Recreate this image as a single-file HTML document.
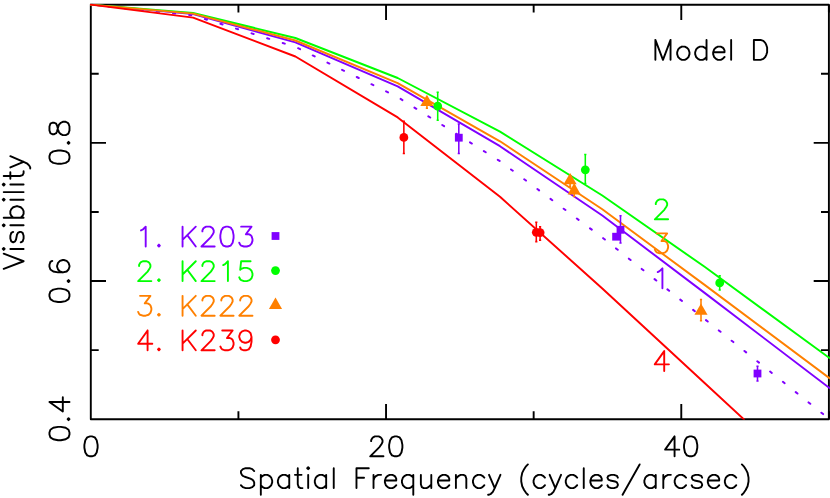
<!DOCTYPE html>
<html><head><meta charset="utf-8"><title>Model D visibility</title>
<style>html,body{margin:0;padding:0;background:#fff;font-family:"Liberation Sans",sans-serif}svg{display:block}</style>
</head><body>
<svg width="830" height="498" viewBox="0 0 830 498">
<rect width="830" height="498" fill="#fff"/>
<rect x="271.6" y="232.1" width="7.8" height="7.8" fill="#8000ff"/>
<circle cx="275.5" cy="270.6" r="4.4" fill="#00ff00"/>
<path d="M275.5 297.6 L282.05 309 L268.95 309 Z" fill="#ff8000"/>
<circle cx="275.5" cy="339.8" r="4.4" fill="#ff0000"/>
<g stroke="#000" stroke-width="1.9" fill="none" stroke-linecap="butt">
<rect x="90.8" y="4.7" width="738.1" height="414.5" stroke-linejoin="round"/>
<path d="M238.42 419.2 V411.3 M238.42 4.7 V12.6 M386.04 419.2 V404 M386.04 4.7 V19.9 M533.66 419.2 V411.3 M533.66 4.7 V12.6 M681.28 419.2 V404 M681.28 4.7 V19.9 M828.9 419.2 V411.3 M828.9 4.7 V12.6 M90.8 350.12 H98.7 M828.9 350.12 H821 M90.8 281.03 H106 M828.9 281.03 H813.7 M90.8 211.95 H98.7 M828.9 211.95 H821 M90.8 142.87 H106 M828.9 142.87 H813.7 M90.8 73.78 H98.7 M828.9 73.78 H821"/>
</g>
<g fill="none" stroke-linecap="round" stroke-linejoin="round" clip-path="url(#clip)">
<clipPath id="clip"><rect x="89.9" y="3.8" width="741.1" height="415.7"/></clipPath>
<path d="M90.8 4.6 L193.1 14.1 L295.4 42.4 L397.7 86.4 L500 146.2 L602.3 215.5 L704.6 292.9 L829.5 388" stroke="#8000ff" stroke-width="1.95"/>
<path d="M92.23 4.75l2.19 0.23M108.39 6.46l2.19 0.23M124.54 8.16l2.19 0.23M140.7 9.87l2.19 0.23M156.85 11.57l2.19 0.23M173.01 13.28l2.19 0.23M189.17 14.98l2.19 0.23M204.87 19.03l2.1 0.65M220.44 23.82l2.1 0.65M236 28.61l2.1 0.65M251.56 33.4l2.1 0.65M267.12 38.19l2.1 0.65M282.68 42.98l2.1 0.65M298.09 48.22l1.98 0.97M312.75 55.42l1.98 0.97M327.42 62.61l1.98 0.97M342.09 69.81l1.98 0.97M356.75 77.01l1.98 0.97M371.42 84.2l1.98 0.97M386.08 91.4l1.98 0.97M400.59 98.91l1.86 1.17M414.47 107.61l1.86 1.17M428.35 116.31l1.86 1.17M442.24 125.01l1.86 1.17M456.12 133.7l1.86 1.17M470 142.4l1.86 1.17M483.88 151.1l1.86 1.17M497.76 159.8l1.86 1.17M511.04 169.44l1.76 1.32M524.2 179.25l1.76 1.32M537.37 189.07l1.76 1.32M550.53 198.89l1.76 1.32M563.69 208.7l1.76 1.32M576.85 218.52l1.76 1.32M590.02 228.34l1.76 1.32M603.16 238.18l1.72 1.37M616.01 248.43l1.72 1.37M628.87 258.67l1.72 1.37M641.72 268.91l1.72 1.37M654.58 279.15l1.72 1.37M667.43 289.39l1.72 1.37M680.29 299.63l1.72 1.37M693.14 309.87l1.72 1.37M706 320.12l1.72 1.38M718.82 330.41l1.72 1.38M731.64 340.69l1.72 1.38M744.46 350.98l1.72 1.38M757.28 361.26l1.72 1.38M770.1 371.55l1.72 1.38M782.93 381.84l1.72 1.38M795.75 392.12l1.72 1.38M808.57 402.41l1.72 1.38M821.39 412.69l1.72 1.38" stroke="#8000ff" stroke-width="2.0"/>
<path d="M90.8 4.6 L193.1 13 L295.4 38 L397.7 78 L500 131.7 L602.3 195.5 L704.6 266.8 L829.5 358" stroke="#00ff00" stroke-width="1.95"/>
<path d="M90.8 4.6 L193.1 13.6 L295.4 40.5 L397.7 83.1 L500 141.3 L602.3 209.3 L704.6 284.9 L829.5 378.1" stroke="#ff8000" stroke-width="1.95"/>
<path d="M90.8 4.6 L193.1 17.6 L295.4 56.5 L397.7 117.4 L500 196.8 L602.3 288.5 L704.6 383 L744 419.4" stroke="#ff0000" stroke-width="1.95"/>
</g>
<path d="M458.8 123.4V154M457.7 123.9h2.2M457.7 153.5h2.2" stroke="#8000ff" stroke-width="1.55" fill="none"/>
<rect x="454.9" y="133.8" width="7.8" height="7.8" fill="#8000ff"/>
<path d="M620.5 215.2V243.5M619.4 215.7h2.2M619.4 243h2.2" stroke="#8000ff" stroke-width="1.55" fill="none"/>
<rect x="616.6" y="225.9" width="7.8" height="7.8" fill="#8000ff"/>
<path d="M616.1 234V239.5M615 234.5h2.2M615 239h2.2" stroke="#8000ff" stroke-width="1.55" fill="none"/>
<rect x="612.2" y="232.8" width="7.8" height="7.8" fill="#8000ff"/>
<path d="M757.5 365.7V381.5M756.4 366.2h2.2M756.4 381h2.2" stroke="#8000ff" stroke-width="1.55" fill="none"/>
<rect x="753.6" y="369.6" width="7.8" height="7.8" fill="#8000ff"/>
<path d="M437.7 91.8V120.7M436.6 92.3h2.2M436.6 120.2h2.2" stroke="#00ff00" stroke-width="1.55" fill="none"/>
<circle cx="437.7" cy="106.1" r="4.4" fill="#00ff00"/>
<path d="M585.3 153.9V184M584.2 154.4h2.2M584.2 183.5h2.2" stroke="#00ff00" stroke-width="1.55" fill="none"/>
<circle cx="585.3" cy="169.8" r="4.4" fill="#00ff00"/>
<path d="M719.7 275.3V290.4M718.6 275.8h2.2M718.6 289.9h2.2" stroke="#00ff00" stroke-width="1.55" fill="none"/>
<circle cx="719.7" cy="282.9" r="4.4" fill="#00ff00"/>
<path d="M426.9 97V108.8M425.8 97.5h2.2M425.8 108.3h2.2" stroke="#ff8000" stroke-width="1.55" fill="none"/>
<path d="M426.9 94.7 L433.45 106.1 L420.35 106.1 Z" fill="#ff8000"/>
<path d="M570.1 175V187M569 175.5h2.2M569 186.5h2.2" stroke="#ff8000" stroke-width="1.55" fill="none"/>
<path d="M570.1 172.9 L576.65 184.3 L563.55 184.3 Z" fill="#ff8000"/>
<path d="M574.2 185V197M573.1 185.5h2.2M573.1 196.5h2.2" stroke="#ff8000" stroke-width="1.55" fill="none"/>
<path d="M574.2 183 L580.75 194.4 L567.65 194.4 Z" fill="#ff8000"/>
<path d="M701 299V321.3M699.9 299.5h2.2M699.9 320.8h2.2" stroke="#ff8000" stroke-width="1.55" fill="none"/>
<path d="M701 303.4 L707.55 314.8 L694.45 314.8 Z" fill="#ff8000"/>
<path d="M403.85 120.8V154M402.75 121.3h2.2M402.75 153.5h2.2" stroke="#ff0000" stroke-width="1.55" fill="none"/>
<circle cx="403.85" cy="137.4" r="4.4" fill="#ff0000"/>
<path d="M536.3 221.8V242.1M535.2 222.3h2.2M535.2 241.6h2.2" stroke="#ff0000" stroke-width="1.55" fill="none"/>
<circle cx="536.3" cy="232.3" r="4.4" fill="#ff0000"/>
<path d="M540.1 226.3V240.7M539 226.8h2.2M539 240.2h2.2" stroke="#ff0000" stroke-width="1.55" fill="none"/>
<circle cx="540.1" cy="232.7" r="4.4" fill="#ff0000"/>
<g fill="none" stroke-linecap="round" stroke-linejoin="round">
<path transform="translate(651.6 59.85) scale(0.947 -0.947)" d="M4 21 L4 0 M4 21 L12 0 M20 21 L12 0 M20 21 L20 0 M32 14 L30 13 L28 11 L27 8 L27 6 L28 3 L30 1 L32 0 L35 0 L37 1 L39 3 L40 6 L40 8 L39 11 L37 13 L35 14 L32 14 M58 21 L58 0 M58 11 L56 13 L54 14 L51 14 L49 13 L47 11 L46 8 L46 6 L47 3 L49 1 L51 0 L54 0 L56 1 L58 3 M65 8 L77 8 L77 10 L76 12 L75 13 L73 14 L70 14 L68 13 L66 11 L65 8 L65 6 L66 3 L68 1 L70 0 L73 0 L75 1 L77 3 M84 21 L84 0 M108 21 L108 0 M108 21 L115 21 L118 20 L120 18 L121 16 L122 13 L122 8 L121 5 L120 3 L118 1 L115 0 L108 0" stroke="#000" stroke-width="1.9" vector-effect="non-scaling-stroke"/>
<path transform="translate(135.3 246.5) scale(0.945 -0.945)" d="M6 17 L8 18 L11 21 L11 0 M25 2 L24 1 L25 0 L26 1 L25 2 M50 21 L50 0 M64 21 L50 7 M55 12 L64 0 M71 16 L71 17 L72 19 L73 20 L75 21 L79 21 L81 20 L82 19 L83 17 L83 15 L82 13 L80 10 L70 0 L84 0 M96 21 L93 20 L91 17 L90 12 L90 9 L91 4 L93 1 L96 0 L98 0 L101 1 L103 4 L104 9 L104 12 L103 17 L101 20 L98 21 L96 21 M112 21 L123 21 L117 13 L120 13 L122 12 L123 11 L124 8 L124 6 L123 3 L121 1 L118 0 L115 0 L112 1 L111 2 L110 4" stroke="#8000ff" stroke-width="1.9" vector-effect="non-scaling-stroke"/>
<path transform="translate(135.3 281.1) scale(0.945 -0.945)" d="M4 16 L4 17 L5 19 L6 20 L8 21 L12 21 L14 20 L15 19 L16 17 L16 15 L15 13 L13 10 L3 0 L17 0 M25 2 L24 1 L25 0 L26 1 L25 2 M50 21 L50 0 M64 21 L50 7 M55 12 L64 0 M71 16 L71 17 L72 19 L73 20 L75 21 L79 21 L81 20 L82 19 L83 17 L83 15 L82 13 L80 10 L70 0 L84 0 M93 17 L95 18 L98 21 L98 0 M122 21 L112 21 L111 12 L112 13 L115 14 L118 14 L121 13 L123 11 L124 8 L124 6 L123 3 L121 1 L118 0 L115 0 L112 1 L111 2 L110 4" stroke="#00ff00" stroke-width="1.9" vector-effect="non-scaling-stroke"/>
<path transform="translate(135.3 315.7) scale(0.945 -0.945)" d="M5 21 L16 21 L10 13 L13 13 L15 12 L16 11 L17 8 L17 6 L16 3 L14 1 L11 0 L8 0 L5 1 L4 2 L3 4 M25 2 L24 1 L25 0 L26 1 L25 2 M50 21 L50 0 M64 21 L50 7 M55 12 L64 0 M71 16 L71 17 L72 19 L73 20 L75 21 L79 21 L81 20 L82 19 L83 17 L83 15 L82 13 L80 10 L70 0 L84 0 M91 16 L91 17 L92 19 L93 20 L95 21 L99 21 L101 20 L102 19 L103 17 L103 15 L102 13 L100 10 L90 0 L104 0 M111 16 L111 17 L112 19 L113 20 L115 21 L119 21 L121 20 L122 19 L123 17 L123 15 L122 13 L120 10 L110 0 L124 0" stroke="#ff8000" stroke-width="1.9" vector-effect="non-scaling-stroke"/>
<path transform="translate(135.3 350.3) scale(0.945 -0.945)" d="M13 21 L3 7 L18 7 M13 21 L13 0 M25 2 L24 1 L25 0 L26 1 L25 2 M50 21 L50 0 M64 21 L50 7 M55 12 L64 0 M71 16 L71 17 L72 19 L73 20 L75 21 L79 21 L81 20 L82 19 L83 17 L83 15 L82 13 L80 10 L70 0 L84 0 M92 21 L103 21 L97 13 L100 13 L102 12 L103 11 L104 8 L104 6 L103 3 L101 1 L98 0 L95 0 L92 1 L91 2 L90 4 M123 14 L122 11 L120 9 L117 8 L116 8 L113 9 L111 11 L110 14 L110 15 L111 18 L113 20 L116 21 L117 21 L120 20 L122 18 L123 14 L123 9 L122 4 L120 1 L117 0 L115 0 L112 1 L111 3" stroke="#ff0000" stroke-width="1.9" vector-effect="non-scaling-stroke"/>
<path transform="translate(652 219.3) scale(0.947 -0.947)" d="M4 16 L4 17 L5 19 L6 20 L8 21 L12 21 L14 20 L15 19 L16 17 L16 15 L15 13 L13 10 L3 0 L17 0" stroke="#00ff00" stroke-width="1.9" vector-effect="non-scaling-stroke"/>
<path transform="translate(652 253.3) scale(0.947 -0.947)" d="M5 21 L16 21 L10 13 L13 13 L15 12 L16 11 L17 8 L17 6 L16 3 L14 1 L11 0 L8 0 L5 1 L4 2 L3 4" stroke="#ff8000" stroke-width="1.9" vector-effect="non-scaling-stroke"/>
<path transform="translate(652 288.2) scale(0.947 -0.947)" d="M6 17 L8 18 L11 21 L11 0" stroke="#8000ff" stroke-width="1.9" vector-effect="non-scaling-stroke"/>
<path transform="translate(651.9 371) scale(0.947 -0.947)" d="M13 21 L3 7 L18 7 M13 21 L13 0" stroke="#ff0000" stroke-width="1.9" vector-effect="non-scaling-stroke"/>
<path transform="translate(81.53 456.3) scale(0.947 -0.947)" d="M9 21 L6 20 L4 17 L3 12 L3 9 L4 4 L6 1 L9 0 L11 0 L14 1 L16 4 L17 9 L17 12 L16 17 L14 20 L11 21 L9 21" stroke="#000" stroke-width="1.9" vector-effect="non-scaling-stroke"/>
<path transform="translate(367.36 456.3) scale(0.947 -0.947)" d="M4 16 L4 17 L5 19 L6 20 L8 21 L12 21 L14 20 L15 19 L16 17 L16 15 L15 13 L13 10 L3 0 L17 0 M29 21 L26 20 L24 17 L23 12 L23 9 L24 4 L26 1 L29 0 L31 0 L34 1 L36 4 L37 9 L37 12 L36 17 L34 20 L31 21 L29 21" stroke="#000" stroke-width="1.9" vector-effect="non-scaling-stroke"/>
<path transform="translate(662.26 456.3) scale(0.947 -0.947)" d="M13 21 L3 7 L18 7 M13 21 L13 0 M29 21 L26 20 L24 17 L23 12 L23 9 L24 4 L26 1 L29 0 L31 0 L34 1 L36 4 L37 9 L37 12 L36 17 L34 20 L31 21 L29 21" stroke="#000" stroke-width="1.9" vector-effect="non-scaling-stroke"/>
<path transform="translate(238.1 488.1) scale(0.947 -0.947)" d="M17 18 L15 20 L12 21 L8 21 L5 20 L3 18 L3 16 L4 14 L5 13 L7 12 L13 10 L15 9 L16 8 L17 6 L17 3 L15 1 L12 0 L8 0 L5 1 L3 3 M24 14 L24 -7 M24 11 L26 13 L28 14 L31 14 L33 13 L35 11 L36 8 L36 6 L35 3 L33 1 L31 0 L28 0 L26 1 L24 3 M54 14 L54 0 M54 11 L52 13 L50 14 L47 14 L45 13 L43 11 L42 8 L42 6 L43 3 L45 1 L47 0 L50 0 L52 1 L54 3 M63 21 L63 4 L64 1 L66 0 L68 0 M60 14 L67 14 M73 21 L74 20 L75 21 L74 22 L73 21 M74 14 L74 0 M93 14 L93 0 M93 11 L91 13 L89 14 L86 14 L84 13 L82 11 L81 8 L81 6 L82 3 L84 1 L86 0 L89 0 L91 1 L93 3 M101 21 L101 0 M125 21 L125 0 M125 21 L138 21 M125 11 L133 11 M143 14 L143 0 M143 8 L144 11 L146 13 L148 14 L151 14 M155 8 L167 8 L167 10 L166 12 L165 13 L163 14 L160 14 L158 13 L156 11 L155 8 L155 6 L156 3 L158 1 L160 0 L163 0 L165 1 L167 3 M185 14 L185 -7 M185 11 L183 13 L181 14 L178 14 L176 13 L174 11 L173 8 L173 6 L174 3 L176 1 L178 0 L181 0 L183 1 L185 3 M193 14 L193 4 L194 1 L196 0 L199 0 L201 1 L204 4 M204 14 L204 0 M211 8 L223 8 L223 10 L222 12 L221 13 L219 14 L216 14 L214 13 L212 11 L211 8 L211 6 L212 3 L214 1 L216 0 L219 0 L221 1 L223 3 M230 14 L230 0 M230 10 L233 13 L235 14 L238 14 L240 13 L241 10 L241 0 M260 11 L258 13 L256 14 L253 14 L251 13 L249 11 L248 8 L248 6 L249 3 L251 1 L253 0 L256 0 L258 1 L260 3 M265 14 L271 0 M277 14 L271 0 L269 -4 L267 -6 L265 -7 L264 -7 M306 25 L304 23 L302 20 L300 16 L299 11 L299 7 L300 2 L302 -2 L304 -5 L306 -7 M324 11 L322 13 L320 14 L317 14 L315 13 L313 11 L312 8 L312 6 L313 3 L315 1 L317 0 L320 0 L322 1 L324 3 M329 14 L335 0 M341 14 L335 0 L333 -4 L331 -6 L329 -7 L328 -7 M358 11 L356 13 L354 14 L351 14 L349 13 L347 11 L346 8 L346 6 L347 3 L349 1 L351 0 L354 0 L356 1 L358 3 M365 21 L365 0 M372 8 L384 8 L384 10 L383 12 L382 13 L380 14 L377 14 L375 13 L373 11 L372 8 L372 6 L373 3 L375 1 L377 0 L380 0 L382 1 L384 3 M401 11 L400 13 L397 14 L394 14 L391 13 L390 11 L391 9 L393 8 L398 7 L400 6 L401 4 L401 3 L400 1 L397 0 L394 0 L391 1 L390 3 M424 25 L406 -7 M441 14 L441 0 M441 11 L439 13 L437 14 L434 14 L432 13 L430 11 L429 8 L429 6 L430 3 L432 1 L434 0 L437 0 L439 1 L441 3 M449 14 L449 0 M449 8 L450 11 L452 13 L454 14 L457 14 M473 11 L471 13 L469 14 L466 14 L464 13 L462 11 L461 8 L461 6 L462 3 L464 1 L466 0 L469 0 L471 1 L473 3 M490 11 L489 13 L486 14 L483 14 L480 13 L479 11 L480 9 L482 8 L487 7 L489 6 L490 4 L490 3 L489 1 L486 0 L483 0 L480 1 L479 3 M496 8 L508 8 L508 10 L507 12 L506 13 L504 14 L501 14 L499 13 L497 11 L496 8 L496 6 L497 3 L499 1 L501 0 L504 0 L506 1 L508 3 M526 11 L524 13 L522 14 L519 14 L517 13 L515 11 L514 8 L514 6 L515 3 L517 1 L519 0 L522 0 L524 1 L526 3 M532 25 L534 23 L536 20 L538 16 L539 11 L539 7 L538 2 L536 -2 L534 -5 L532 -7" stroke="#000" stroke-width="1.9" vector-effect="non-scaling-stroke"/>
<path transform="translate(69.5 166.68) rotate(-90) scale(0.955 -0.955)" d="M9 21 L6 20 L4 17 L3 12 L3 9 L4 4 L6 1 L9 0 L11 0 L14 1 L16 4 L17 9 L17 12 L16 17 L14 20 L11 21 L9 21 M25 2 L24 1 L25 0 L26 1 L25 2 M38 21 L35 20 L34 18 L34 16 L35 14 L37 13 L41 12 L44 11 L46 9 L47 7 L47 4 L46 2 L45 1 L42 0 L38 0 L35 1 L34 2 L33 4 L33 7 L34 9 L36 11 L39 12 L43 13 L45 14 L46 16 L46 18 L45 20 L42 21 L38 21" stroke="#000" stroke-width="1.9" vector-effect="non-scaling-stroke"/>
<path transform="translate(69.5 304.88) rotate(-90) scale(0.955 -0.955)" d="M9 21 L6 20 L4 17 L3 12 L3 9 L4 4 L6 1 L9 0 L11 0 L14 1 L16 4 L17 9 L17 12 L16 17 L14 20 L11 21 L9 21 M25 2 L24 1 L25 0 L26 1 L25 2 M46 18 L45 20 L42 21 L40 21 L37 20 L35 17 L34 12 L34 7 L35 3 L37 1 L40 0 L41 0 L44 1 L46 3 L47 6 L47 7 L46 10 L44 12 L41 13 L40 13 L37 12 L35 10 L34 7" stroke="#000" stroke-width="1.9" vector-effect="non-scaling-stroke"/>
<path transform="translate(69.5 443.07) rotate(-90) scale(0.955 -0.955)" d="M9 21 L6 20 L4 17 L3 12 L3 9 L4 4 L6 1 L9 0 L11 0 L14 1 L16 4 L17 9 L17 12 L16 17 L14 20 L11 21 L9 21 M25 2 L24 1 L25 0 L26 1 L25 2 M43 21 L33 7 L48 7 M43 21 L43 0" stroke="#000" stroke-width="1.9" vector-effect="non-scaling-stroke"/>
<path transform="translate(23.6 269.77) rotate(-90) scale(0.947 -0.947)" d="M1 21 L9 0 M17 21 L9 0 M21 21 L22 20 L23 21 L22 22 L21 21 M22 14 L22 0 M40 11 L39 13 L36 14 L33 14 L30 13 L29 11 L30 9 L32 8 L37 7 L39 6 L40 4 L40 3 L39 1 L36 0 L33 0 L30 1 L29 3 M46 21 L47 20 L48 21 L47 22 L46 21 M47 14 L47 0 M55 21 L55 0 M55 11 L57 13 L59 14 L62 14 L64 13 L66 11 L67 8 L67 6 L66 3 L64 1 L62 0 L59 0 L57 1 L55 3 M73 21 L74 20 L75 21 L74 22 L73 21 M74 14 L74 0 M82 21 L82 0 M89 21 L90 20 L91 21 L90 22 L89 21 M90 14 L90 0 M99 21 L99 4 L100 1 L102 0 L104 0 M96 14 L103 14 M108 14 L114 0 M120 14 L114 0 L112 -4 L110 -6 L108 -7 L107 -7" stroke="#000" stroke-width="1.9" vector-effect="non-scaling-stroke"/>
</g>
</svg>
</body></html>
